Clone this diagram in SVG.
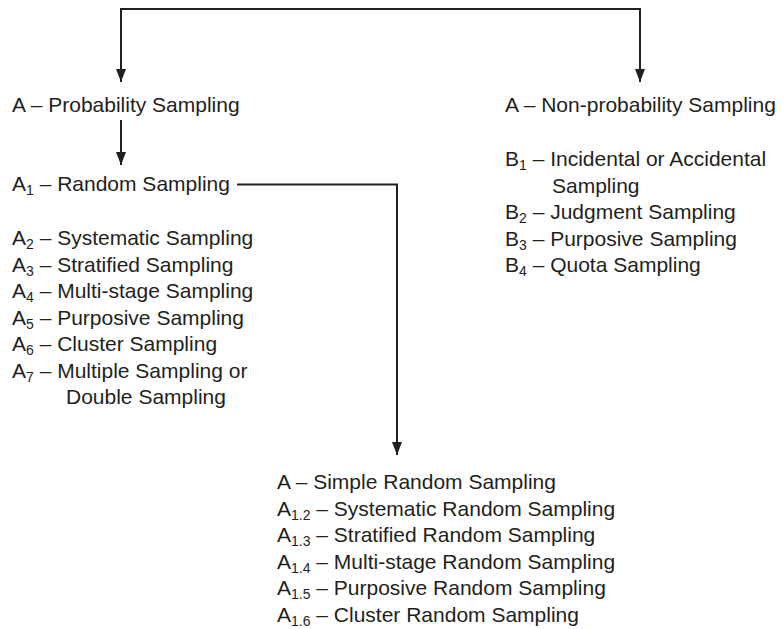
<svg xmlns="http://www.w3.org/2000/svg" width="783" height="629" viewBox="0 0 783 629">
<defs>
<style>
text{font-family:"Liberation Sans",Arial,sans-serif;font-size:21px;fill:#231f20}
.sub{font-size:14px}
.conn{fill:none;stroke:#231f20;stroke-width:2}
</style>
<marker id="ah" viewBox="0 0 13 10" markerUnits="userSpaceOnUse" markerWidth="13" markerHeight="10" refX="13" refY="5" orient="auto-start-reverse">
<path d="M0,0 L13,5 L0,10 z" fill="#231f20"/>
</marker>
</defs>
<rect width="783" height="629" fill="#ffffff"/>
<g id="connectors">
<path class="conn" d="M121,82 V9 H640 V82" marker-start="url(#ah)" marker-end="url(#ah)"/>
<path class="conn" d="M121,120 V165" marker-end="url(#ah)"/>
<path class="conn" d="M237,184.5 H397 V455" marker-end="url(#ah)"/>
</g>
<g id="probability">
<text x="12" y="112">A – Probability Sampling</text>
</g>
<g id="nonprobability">
<text x="505" y="112">A – Non-probability Sampling</text>
</g>
<g id="random">
<text x="12" y="191">A<tspan class="sub" dy="4">1</tspan><tspan dy="-4"> – Random Sampling</tspan></text>
</g>
<g id="probability-list">
<text x="12" y="245">A<tspan class="sub" dy="4">2</tspan><tspan dy="-4"> – Systematic Sampling</tspan></text>
<text x="12" y="271.5">A<tspan class="sub" dy="4">3</tspan><tspan dy="-4"> – Stratified Sampling</tspan></text>
<text x="12" y="298">A<tspan class="sub" dy="4">4</tspan><tspan dy="-4"> – Multi-stage Sampling</tspan></text>
<text x="12" y="324.5">A<tspan class="sub" dy="4">5</tspan><tspan dy="-4"> – Purposive Sampling</tspan></text>
<text x="12" y="351">A<tspan class="sub" dy="4">6</tspan><tspan dy="-4"> – Cluster Sampling</tspan></text>
<text x="12" y="377.5">A<tspan class="sub" dy="4">7</tspan><tspan dy="-4"> – Multiple Sampling or</tspan></text>
<text x="66" y="404">Double Sampling</text>
</g>
<g id="nonprobability-list">
<text x="505" y="166">B<tspan class="sub" dy="4">1</tspan><tspan dy="-4"> – Incidental or Accidental</tspan></text>
<text x="552" y="192.5">Sampling</text>
<text x="505" y="219">B<tspan class="sub" dy="4">2</tspan><tspan dy="-4"> – Judgment Sampling</tspan></text>
<text x="505" y="245.5">B<tspan class="sub" dy="4">3</tspan><tspan dy="-4"> – Purposive Sampling</tspan></text>
<text x="505" y="272">B<tspan class="sub" dy="4">4</tspan><tspan dy="-4"> – Quota Sampling</tspan></text>
</g>
<g id="random-list">
<text x="277" y="488.5">A – Simple Random Sampling</text>
<text x="277" y="515.5">A<tspan class="sub" dy="4">1.2</tspan><tspan dy="-4"> – Systematic Random Sampling</tspan></text>
<text x="277" y="542">A<tspan class="sub" dy="4">1.3</tspan><tspan dy="-4"> – Stratified Random Sampling</tspan></text>
<text x="277" y="568.5">A<tspan class="sub" dy="4">1.4</tspan><tspan dy="-4"> – Multi-stage Random Sampling</tspan></text>
<text x="277" y="595">A<tspan class="sub" dy="4">1.5</tspan><tspan dy="-4"> – Purposive Random Sampling</tspan></text>
<text x="277" y="621.5">A<tspan class="sub" dy="4">1.6</tspan><tspan dy="-4"> – Cluster Random Sampling</tspan></text>
</g>
</svg>
